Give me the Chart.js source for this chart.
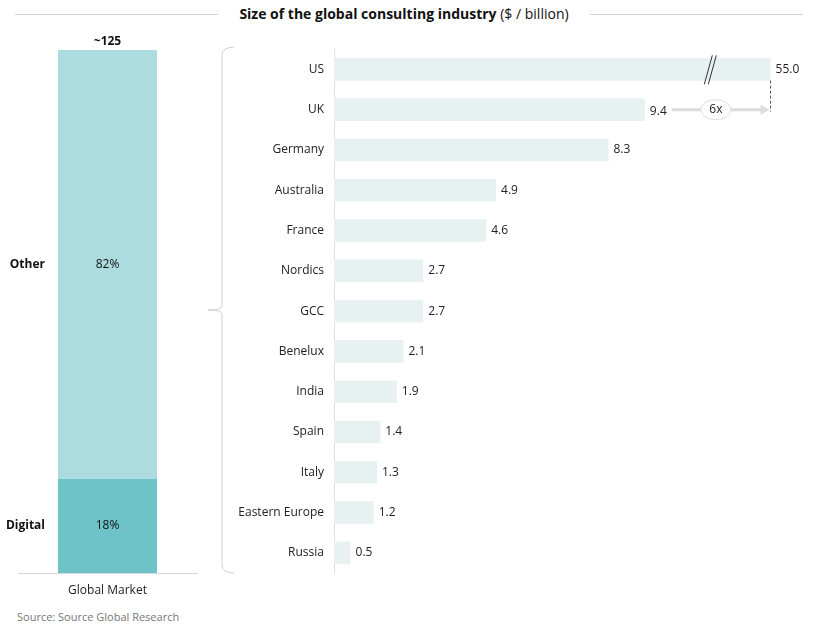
<!DOCTYPE html>
<html>
<head>
<meta charset="utf-8">
<script src="https://cdn.jsdelivr.net/npm/chart.js@4"></script>
<style>
  body { margin: 0; width: 816px; height: 630px; background: #fff; font-family: "Open Sans", sans-serif; position: relative; overflow: hidden; }
  #title { position: absolute; top: 4px; left: 0; width: 816px; height: 20px; }
  #title .line { position: absolute; top: 10px; height: 1px; background: #cfcfcf; }
  #title .txt { position: absolute; left: 218px; width: 372px; text-align: center; font-size: 14px; color: #111; top: 0px; }
  #title b { font-weight: 700; }
  #source { position: absolute; left: 17px; top: 609px; font-size: 11px; color: #777; }
  canvas { position: absolute; }
  #left { left: 0; top: 30px; }
  #right { left: 200px; top: 40px; }
</style>
</head>
<body>
<div id="title">
  <div class="line" style="left:15px;width:203px"></div>
  <div class="txt"><b>Size of the global consulting industry</b> ($ / billion)</div>
  <div class="line" style="left:590px;width:213px"></div>
</div>
<canvas id="left" width="210" height="570"></canvas>
<canvas id="right" width="616" height="550"></canvas>
<div id="source">Source: Source Global Research</div>
<script>
"use strict";
// left: global market split (%)
const marketLabel = ["Global Market"];
const marketSegments = ["Digital", "Other"];
const marketShares = [18, 82];
const marketTotal = "~125";

// right: market size by country ($ bn)
const countries = ["US", "UK", "Germany", "Australia", "France", "Nordics", "GCC",
  "Benelux", "India", "Spain", "Italy", "Eastern Europe", "Russia"];
const sizes = [55.0, 9.4, 8.3, 4.9, 4.6, 2.7, 2.7, 2.1, 1.9, 1.4, 1.3, 1.2, 0.5];
const AXIS_BREAK = 13.2; // US bar is drawn on a broken axis
const ratioLabel = "6x";

const FONT = "'Open Sans', sans-serif";
Chart.defaults.font.family = FONT;
Chart.defaults.color = "#222";

const leftLabels = {
  id: "leftLabels",
  afterDatasetsDraw(chart) {
    const { ctx } = chart;
    const y = chart.scales.y;
    const x = chart.scales.x;
    ctx.save();
    ctx.fillStyle = "#111";
    let base = 0;
    marketShares.forEach((v, i) => {
      const mid = y.getPixelForValue(base + v / 2);
      base += v;
      ctx.font = "bold 12px " + FONT;
      ctx.textAlign = "right";
      ctx.textBaseline = "middle";
      ctx.fillText(marketSegments[i], 45, mid);
      ctx.font = "12px " + FONT;
      ctx.textAlign = "center";
      ctx.fillText(v + "%", x.getPixelForValue(0), mid);
    });
    ctx.font = "bold 12px " + FONT;
    ctx.textAlign = "center";
    ctx.textBaseline = "bottom";
    ctx.fillText(marketTotal, x.getPixelForValue(0), y.getPixelForValue(base) - 2);
    ctx.restore();
  },
};

new Chart(document.getElementById("left"), {
  type: "bar",
  data: {
    labels: marketLabel,
    datasets: marketSegments.map((s, i) => ({
      label: s,
      data: [marketShares[i]],
      backgroundColor: i === 0 ? "#6dc3c7" : "#acdbe0",
      borderWidth: 0,
      categoryPercentage: 1,
      barPercentage: 0.553,
    })),
  },
  options: {
    responsive: false,
    animation: false,
    layout: { padding: { left: 18, right: 13, top: 20, bottom: 0 } },
    plugins: { legend: { display: false }, tooltip: { enabled: false } },
    scales: {
      x: {
        stacked: true,
        grid: { display: false },
        border: { display: true, color: "#d8d8d8", width: 1 },
        ticks: { padding: 2, font: { size: 12 }, color: "#222" },
        afterFit: (s) => { s.height = 27; },
      },
      y: { stacked: true, display: false, min: 0, max: 100 },
    },
  },
  plugins: [leftLabels],
});

const rightDecor = {
  id: "rightDecor",
  afterDatasetsDraw(chart) {
    const { ctx, chartArea } = chart;
    const x = chart.scales.x;
    const meta = chart.getDatasetMeta(0);
    ctx.save();
    // value labels
    ctx.font = "12px " + FONT;
    ctx.fillStyle = "#222";
    ctx.textBaseline = "middle";
    ctx.textAlign = "left";
    meta.data.forEach((bar, i) => {
      ctx.fillText(sizes[i].toFixed(1), bar.x + 5, bar.y + (i === 1 ? 2 : 0));
    });
    // break marks on US bar
    const us = meta.data[0];
    const bx = x.getPixelForValue(AXIS_BREAK * 0.862);
    ctx.strokeStyle = "#333";
    ctx.lineWidth = 1;
    [-2, 2].forEach((d) => {
      ctx.beginPath();
      ctx.moveTo(bx + d - 4, us.y + 15);
      ctx.lineTo(bx + d + 4, us.y - 14);
      ctx.stroke();
    });
    // dashed drop and arrow
    const ux = us.x;
    const uk = meta.data[1];
    ctx.strokeStyle = "#555";
    ctx.setLineDash([3, 2]);
    ctx.beginPath();
    ctx.moveTo(ux, us.y + us.height / 2);
    ctx.lineTo(ux, uk.y + 2);
    ctx.stroke();
    ctx.setLineDash([]);
    const ax0 = uk.x + 27;
    const ay = uk.y;
    ctx.strokeStyle = "#dcdcdc";
    ctx.lineWidth = 3;
    ctx.beginPath();
    ctx.moveTo(ax0, ay);
    ctx.lineTo(ux - 8, ay);
    ctx.stroke();
    ctx.fillStyle = "#dcdcdc";
    ctx.beginPath();
    ctx.moveTo(ux - 1, ay);
    ctx.lineTo(ux - 10, ay - 5);
    ctx.lineTo(ux - 10, ay + 5);
    ctx.closePath();
    ctx.fill();
    const ex = ax0 + 44;
    ctx.fillStyle = "#fff";
    ctx.strokeStyle = "#dcdcdc";
    ctx.lineWidth = 1;
    ctx.beginPath();
    ctx.ellipse(ex, ay, 15, 10, 0, 0, Math.PI * 2);
    ctx.fill();
    ctx.stroke();
    ctx.fillStyle = "#222";
    ctx.textAlign = "center";
    ctx.fillText(ratioLabel, ex, ay);
    // brace
    const top = chartArea.top - 2, bot = chartArea.bottom, mid = (top + bot) / 2;
    const bxr = 22, r = 8;
    ctx.strokeStyle = "#d0d0d0";
    ctx.lineWidth = 1;
    ctx.beginPath();
    ctx.moveTo(bxr + r + 4, top);
    ctx.quadraticCurveTo(bxr, top, bxr, top + r);
    ctx.lineTo(bxr, mid - 4);
    ctx.quadraticCurveTo(bxr, mid, bxr - 14, mid);
    ctx.quadraticCurveTo(bxr, mid, bxr, mid + 4);
    ctx.lineTo(bxr, bot - r);
    ctx.quadraticCurveTo(bxr, bot, bxr + r + 4, bot);
    ctx.stroke();
    ctx.restore();
  },
};

new Chart(document.getElementById("right"), {
  type: "bar",
  data: {
    labels: countries,
    datasets: [{
      data: sizes.map((v) => Math.min(v, AXIS_BREAK)),
      backgroundColor: "#e8f1f2",
      borderWidth: 0,
      categoryPercentage: 1,
      barPercentage: 0.56,
    }],
  },
  options: {
    indexAxis: "y",
    responsive: false,
    animation: false,
    layout: { padding: { left: 0, right: 19, top: 6, bottom: 17 } },
    plugins: { legend: { display: false }, tooltip: { enabled: false } },
    scales: {
      x: { display: false, min: 0, max: 14 },
      y: {
        grid: { display: false },
        border: { display: true, color: "#e2e2e2", width: 1 },
        ticks: { padding: 2, font: { size: 12 }, color: "#222" },
        afterFit: (s) => { s.width = 134; },
      },
    },
  },
  plugins: [rightDecor],
});
</script>
</body>
</html>
